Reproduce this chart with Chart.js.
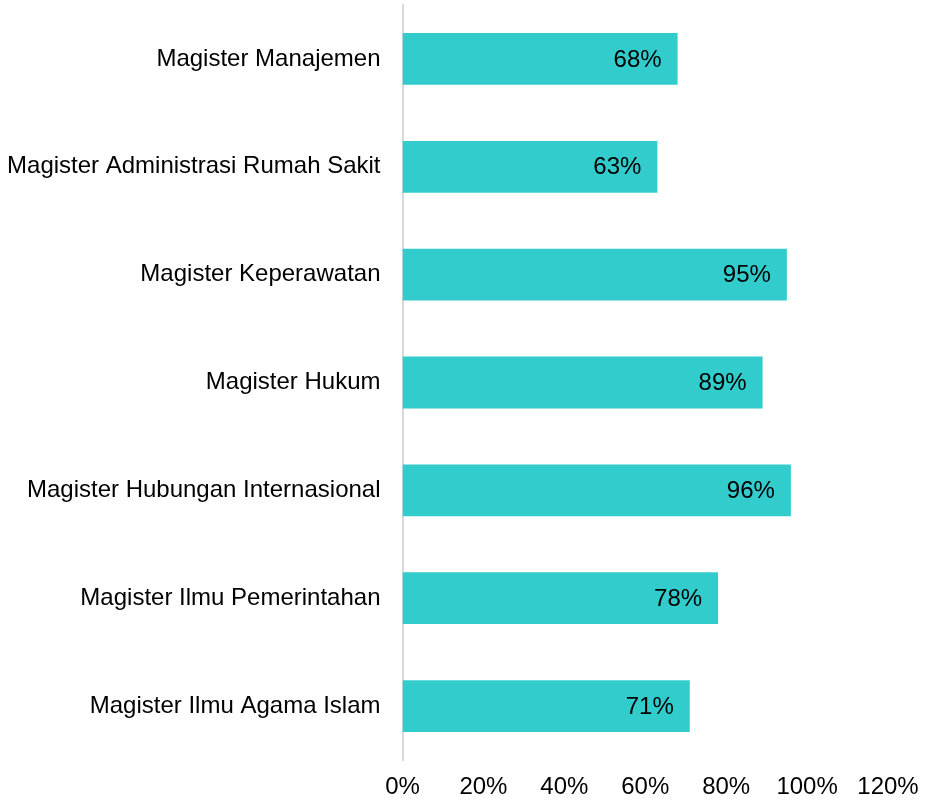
<!DOCTYPE html>
<html>
<head>
<meta charset="utf-8">
<script src="https://cdn.jsdelivr.net/npm/chart.js@4.4.0/dist/chart.umd.min.js"></script>
<style>
  html, body { margin: 0; padding: 0; background: #fff; }
  #wrap { width: 926px; height: 803px; position: relative; }
</style>
</head>
<body>
<div id="wrap"><canvas id="myChart"></canvas></div>
<script>
const programs = [
    'Magister Manajemen',
    'Magister Administrasi Rumah Sakit',
    'Magister Keperawatan',
    'Magister Hukum',
    'Magister Hubungan Internasional',
    'Magister Ilmu Pemerintahan',
    'Magister Ilmu Agama Islam'
];
const percent = [68, 63, 95, 89, 96, 78, 71];
const xTicks = [0, 20, 40, 60, 80, 100, 120];

const fontFamily = '"Liberation Sans", Arial, sans-serif';

// label persen di dalam batang, rata kanan
const valueLabels = {
    id: 'valueLabels',
    afterDatasetsDraw(chart) {
        const ctx = chart.ctx;
        const meta = chart.getDatasetMeta(0);
        ctx.save();
        ctx.font = '24px ' + fontFamily;
        ctx.fillStyle = '#000';
        ctx.textAlign = 'right';
        ctx.textBaseline = 'middle';
        meta.data.forEach(function (bar, i) {
            ctx.fillText(percent[i] + '%', bar.x - 16, bar.y + 1);
        });
        ctx.restore();
    }
};

const config = {
    type: 'bar',
    data: {
        labels: programs,
        datasets: [{
            data: percent,
            backgroundColor: '#33CCCC',
            categoryPercentage: 1,
            barPercentage: 0.48
        }]
    },
    options: {
        indexAxis: 'y',
        responsive: true,
        maintainAspectRatio: false,
        animation: false,
        layout: { padding: { top: 5, right: 38, bottom: 0, left: 0 } },
        plugins: {
            legend: { display: false },
            tooltip: { enabled: false }
        },
        scales: {
            x: {
                min: 0,
                max: 120,
                afterBuildTicks(axis) {
                    axis.ticks = xTicks.map(v => ({ value: v }));
                },
                afterFit(scale) {
                    scale.height = 43;
                    scale.paddingLeft = 0;
                    scale.paddingRight = 0;
                },
                grid: { display: false, drawTicks: false },
                border: { display: false },
                ticks: {
                    padding: 13,
                    color: '#000',
                    maxRotation: 0,
                    font: { family: fontFamily, size: 24 },
                    callback: v => v + '%'
                }
            },
            y: {
                afterFit(scale) {
                    scale.width = 402.5;
                    scale.paddingTop = 0;
                    scale.paddingBottom = 0;
                },
                grid: { display: false, drawTicks: false },
                border: { display: true, color: '#D9D9D9', width: 2 },
                ticks: {
                    padding: 22,
                    color: '#000',
                    font: { family: fontFamily, size: 24 }
                }
            }
        }
    },
    plugins: [valueLabels]
};

const myChart = new Chart(document.getElementById('myChart'), config);
</script>
</body>
</html>
